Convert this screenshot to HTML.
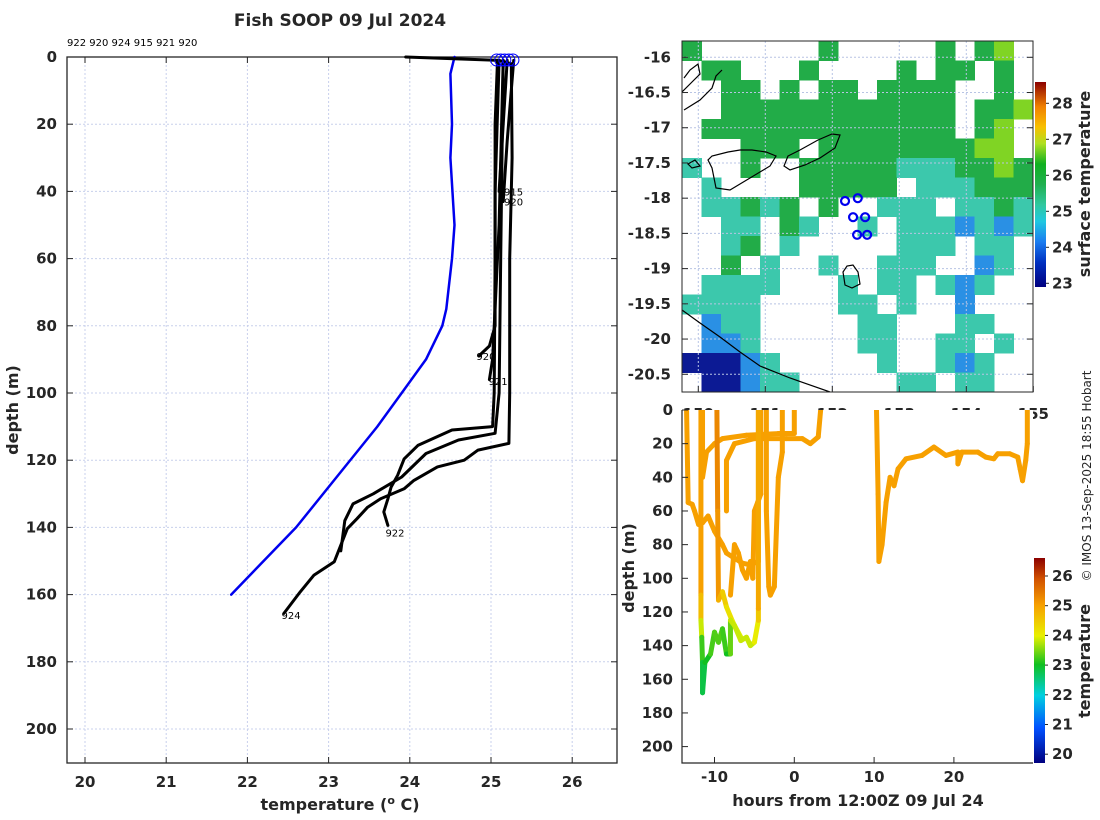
<!DOCTYPE html>
<html><head><meta charset="utf-8"><title>Fish SOOP 09 Jul 2024</title>
<style>
html,body{margin:0;padding:0;background:#fff;}
svg{display:block;font-family:"DejaVu Sans","Liberation Sans",sans-serif;}
.tk{font-size:15px;font-weight:bold;fill:#262626;}
.ttl{font-size:16px;font-weight:bold;fill:#262626;}
</style></head>
<body>
<svg id="fig" width="1100" height="820" viewBox="0 0 1100 820" xmlns="http://www.w3.org/2000/svg">
<defs>
<linearGradient id="cb1" x1="0" y1="1" x2="0" y2="0">
<stop offset="0" stop-color="#00007f"/><stop offset="0.12" stop-color="#0030c0"/><stop offset="0.22" stop-color="#1a7cf0"/><stop offset="0.32" stop-color="#20c8e0"/><stop offset="0.4" stop-color="#30c8a0"/><stop offset="0.5" stop-color="#20b050"/><stop offset="0.6" stop-color="#10b020"/><stop offset="0.7" stop-color="#b0e020"/><stop offset="0.78" stop-color="#f8c000"/><stop offset="0.88" stop-color="#f08000"/><stop offset="1" stop-color="#8b0000"/>
</linearGradient>
<linearGradient id="cb2" x1="0" y1="1" x2="0" y2="0">
<stop offset="0" stop-color="#00007f"/><stop offset="0.17" stop-color="#0050ff"/><stop offset="0.33" stop-color="#00d0e0"/><stop offset="0.48" stop-color="#10c020"/><stop offset="0.62" stop-color="#e8f000"/><stop offset="0.77" stop-color="#f7a000"/><stop offset="0.9" stop-color="#d05000"/><stop offset="1" stop-color="#8b0000"/>
</linearGradient>
<clipPath id="mapclip"><rect x="682" y="41" width="351" height="351"/></clipPath>
<clipPath id="botclip"><rect x="682" y="410" width="351" height="353"/></clipPath>
</defs>
<g id="left"></g>
<g id="map"></g>
<g id="bottom"></g>
<text x="0" y="0" transform="translate(1091,476) rotate(-90)" text-anchor="middle" font-size="12" fill="#262626">© IMOS 13-Sep-2025 18:55 Hobart</text>
</svg>
<script>
// ---------- LEFT PROFILE CHART DATA ----------
const tempTicks = [20,21,22,23,24,25,26];
const depthTicks = [0,20,40,60,80,100,120,140,160,180,200];
const profileIds = ["922","920","924","915","921","920"];
const climTemp  = [24.55,24.5,24.52,24.5,24.55,24.52,24.45,24.4,24.2,23.9,23.6,23.1,22.6,22.2,21.8];
const climDepth = [0,5,20,30,50,60,75,80,90,100,110,125,140,150,160];
const p924Temp  = [23.95,25.1,25.25,25.26,25.23,25.23,25.22,24.84,24.67,24.34,24.05,23.93,23.64,23.48,23.35,23.23,23.15,23.07,22.82,22.65,22.45];
const p924Depth = [0,1,2,30,60,100,115,117,120,122,126,128.5,131.5,134,137.4,140.4,145.3,150.2,154.2,159.2,165.6];
const p922Temp  = [25.08,25.05,25.05,25.04,25.02,24.52,24.1,23.93,23.85,23.77,23.73,23.68,23.73];
const p922Depth = [1,20,60,100,110,111,115.6,119.6,124.5,128,131.5,135.4,139.4];
const p920aTemp = [25.1,25.05,25.05,24.98,24.85];
const p920aDepth= [1,40,80,86,89];
const p921Temp  = [25.15,25.1,25.02,24.98];
const p921Depth = [1,50,90,96];
const p915Temp  = [25.2,25.15,25.1];
const p915Depth = [1,20,40];
const p920bTemp = [25.28,25.2,25.15];
const p920bDepth= [1,25,43];
const p9xTemp   = [25.15,25.12,25.1,25.05,24.6,24.2,23.9,23.55,23.3,23.2,23.15];
const p9xDepth  = [1,60,100,112,114,118,125,130,133,138,147];
const labelText = ["915","920","920","921","922","924"];
const labelTemp = [25.16,25.16,24.82,24.97,23.7,22.42];
const labelDepth= [40,43,89,96.5,141.5,166];
const surfTemp  = [25.07,25.12,25.17,25.22,25.27];

// ---------- MAP DATA ----------
const lonTicks = [150,151,152,153,154,155];
const latTicks = [-16,-16.5,-17,-17.5,-18,-18.5,-19,-19.5,-20,-20.5];
const sstTicks = [23,24,25,26,27,28];
const sstRows = [
"g......g.....g.gy.",
".gg...g....g.gg.g.",
"..gg.g.gg.gggg..g.",
"..gggggggggggg.ggy",
".ggggggggggggg.gy.",
"...ggg.ggggggggyy.",
"t..g..gggggtttggyg",
".t....ggggg.tttggg",
".ttgtg.g..ttt.ttgt",
"..tt.gt..t.tttbtbt",
"..tg.t.....ttt.tt.",
"..g.t..t..ttt..bt.",
".tttt...t.tt.tbt..",
"tttt....tt.t..b...",
".btt.....tt...tt..",
".bbt.....tt..tt.t.",
"dddbt.....t..tbt..",
".ddbtt.....tt.tt.."];
const dropLon = [152.19,152.38,152.31,152.49,152.37,152.52];
const dropLat = [-18.04,-18.0,-18.27,-18.27,-18.52,-18.52];

// ---------- BOTTOM SECTION DATA ----------
const hourTicks = [-10,0,10,20];
const secDepthTicks = [0,20,40,60,80,100,120,140,160,180,200];
const secTempTicks = [20,21,22,23,24,25,26];
const t1Hour = [-13.5,-13.3,-12.8,-12.5,-12,-11.5,-10.8,-10,-9,-8.5,-7.5,-6.5,-5.5,-4.5,-4.5];
const t1Depth= [0,55,56,60,68,67,63,72,80,85,88,91,92,90,0];
const t1Temp = [25,25,25,25,25,25,25,25,25,25,25,25,25,25,25];
const t2Hour = [-11.7,-11.7,-11.7,-11.6,-11.5,-11.5,-11.2,-10.5,-10,-9.5,-9,-8.5,-8,-8,-7.5,-6.7,-6,-5.5,-5,-4.5,-4.5,-4.5];
const t2Depth= [0,110,125,135,150,168,150,145,132,138,130,145,145,125,128,137,135,140,138,125,118,0];
const t2Temp = [25,25,24.3,23.4,23,22.7,22.9,23.1,23.4,23.2,23.4,23,23,23.8,23.9,23.8,23.9,23.8,23.9,24.2,24.8,25];
const t3Hour = [-11.5,-11.5,-11,-10,-9,-6,-2,0,0];
const t3Depth= [0,40,25,20,17,15,14,14,0];
const t3Temp = [25,25,25,25,25,25,25,25,25];
const t4Hour = [-9.7,-9.6,-9.5,-9,-8.5,-7.8,-7.5,-6.7];
const t4Depth= [0,60,113,108,117,125,128,135];
const t4Temp = [25.3,25.2,25,24.6,24.3,24.1,24,23.9];
const t5Hour = [-8.5,-8.5,-7.5,-5,-1,1,2,3,3.3];
const t5Depth= [60,30,20,17,17,17,20,16,0];
const t5Temp = [25,25,25,25,25,25,25,25,25];
const t6Hour = [-8,-7.5,-7,-6.5,-6,-5.5,-5.2,-5,-4.6,-4.2,-4.2];
const t6Depth= [110,80,85,95,100,90,100,60,55,50,0];
const t6Temp = [25,25,25,25,25,25,25,25,25,25,25];
const t7Hour = [-3.5,-3.5,-3.2,-3,-2.5,-2,-1.5,-1.5];
const t7Depth= [0,60,105,110,105,40,25,0];
const t7Temp = [25,25,25,25,25,25,25,25];
const t8Hour = [10.3,10.5,10.6,11,11.5,12,12.5,13,14,16,17.5,19,20.5,20.5,21,23,24,25,25.5,27,28,28.3,28.6,29,29.2,29.2];
const t8Depth= [0,50,90,80,55,40,45,35,29,27,22,27,25,32,25,25,28,29,26,26,28,35,42,30,20,0];
const t8Temp = [25,25,25,25,25,25,25,25,25,25,25,25,25,25,25,25,25,25,25,25,25,25,25,25,25,25];

const NS = "http://www.w3.org/2000/svg";
function mk(tag, attrs, parent){ const e=document.createElementNS(NS,tag); for(const k in attrs) e.setAttribute(k,attrs[k]); parent.appendChild(e); return e; }

// ===== LEFT CHART =====
const L = document.getElementById('left');


const lx = t => 85 + (t-20)*81.2;
const ly = d => 57 + d*3.36;
tempTicks.forEach(t=>{ const g=mk('line',{x1:lx(t),x2:lx(t),y1:57,y2:763,stroke:'#c8d0ec','stroke-width':1,'stroke-dasharray':'2,2'},L);
   });
depthTicks.forEach(d=>{ const g=mk('line',{x1:67,x2:617,y1:ly(d),y2:ly(d),stroke:'#c8d0ec','stroke-width':1,'stroke-dasharray':'2,2'},L);
   });
const fr = mk('rect',{x:67,y:57,width:550,height:706,fill:'none',stroke:'#262626','stroke-width':1.3},L);
 
tempTicks.forEach(t=>{
  mk('line',{x1:lx(t),x2:lx(t),y1:763,y2:757,stroke:'#262626'},L);
  mk('line',{x1:lx(t),x2:lx(t),y1:57,y2:63,stroke:'#262626'},L);
  const tx=mk('text',{x:lx(t),y:787,'text-anchor':'middle',class:'tk'},L); tx.textContent=t;
   
});
depthTicks.forEach(d=>{
  mk('line',{x1:67,x2:73,y1:ly(d),y2:ly(d),stroke:'#262626'},L);
  mk('line',{x1:617,x2:611,y1:ly(d),y2:ly(d),stroke:'#262626'},L);
  const tx=mk('text',{x:57,y:ly(d)+5,'text-anchor':'end',class:'tk'},L); tx.textContent=d;
   
});
let tt=mk('text',{x:340,y:26,'text-anchor':'middle',class:'ttl',style:'font-size:17px'},L); tt.textContent='Fish SOOP 09 Jul 2024';
 
tt=mk('text',{x:67,y:46,'font-size':10,fill:'#000'},L); tt.textContent=profileIds.join(' ');
 
tt=mk('text',{x:340,y:810,'text-anchor':'middle',class:'ttl'},L);
tt.innerHTML='temperature (<tspan dy="-6" font-size="11">o</tspan><tspan dy="6"> C)</tspan>';
 
tt=mk('text',{x:0,y:0,transform:'translate(18,410) rotate(-90)','text-anchor':'middle',class:'ttl'},L); tt.textContent='depth (m)';
 
function poly(ts,ds,color,w,name){
  const pts=ts.map((t,i)=>lx(t).toFixed(1)+','+ly(ds[i]).toFixed(1)).join(' ');
  const p=mk('polyline',{points:pts,fill:'none',stroke:color,'stroke-width':w,'stroke-linejoin':'round','stroke-linecap':'round'},L);
  
  
}
poly(climTemp,climDepth,'#0000ee',2.5,'climatology-line');
poly(p924Temp,p924Depth,'#000',3,'profile-924');
poly(p922Temp,p922Depth,'#000',3,'profile-922');
poly(p920aTemp,p920aDepth,'#000',3,'profile-920');
poly(p921Temp,p921Depth,'#000',3,'profile-921');
poly(p915Temp,p915Depth,'#000',3,'profile-915');
poly(p920bTemp,p920bDepth,'#000',3,'profile-920-b');
poly(p9xTemp,p9xDepth,'#000',3,'profile-extra');
surfTemp.forEach(t=>{ const c=mk('circle',{cx:lx(t),cy:ly(0)+3,r:6,fill:'none',stroke:'#0000ff','stroke-width':1},L);
    });
labelText.forEach((s,i)=>{ const tx=mk('text',{x:lx(labelTemp[i]),y:ly(labelDepth[i])+4,'font-size':10,fill:'#000'},L); tx.textContent=s;
    });

// ===== MAP =====
const M = document.getElementById('map');


const mx = lon => 698.3 + (lon-150)*67;
const my = lat => 57.3 + (-16-lat)*70.44;
const cellCol = {g:'#22ac48',t:'#3cc8ac',b:'#2a90e4',d:'#0c1a94',y:'#80d424'};
const MG = mk('g',{'clip-path':'url(#mapclip)'},M);
const cw = 351/18, ch = 351/18;
sstRows.forEach((row,r)=>{ [...row].forEach((c,k)=>{ if(c!=='.'){ const rc=mk('rect',{x:682+k*cw,y:41+r*ch,width:cw+0.5,height:ch+0.5,fill:cellCol[c]},MG);
    } }); });
lonTicks.forEach(l=>{ mk('line',{x1:mx(l),x2:mx(l),y1:41,y2:392,stroke:'#b8c4e4','stroke-dasharray':'2,2'},MG); });
latTicks.forEach(l=>{ mk('line',{x1:682,x2:1033,y1:my(l),y2:my(l),stroke:'#b8c4e4','stroke-dasharray':'2,2'},MG); });
const coast = [
 'M682,310 L700,323 L720,337 L740,352 L760,366 L790,378 L830,392',
 'M682,92 L692,82 L700,74 L698,64 L690,70 L684,78',
 'M684,110 L700,100 L712,88 L716,76 L722,70',
 'M708,160 L712,168 L716,188 L730,190 L750,178 L770,166 L776,156 L766,152 L752,150 L740,150 L728,152 L712,156 Z',
 'M784,166 L790,170 L805,165 L820,158 L835,148 L840,135 L832,134 L818,140 L800,150 L788,156 Z',
 'M843,272 L845,285 L852,288 L860,284 L858,272 L853,265 L847,266 Z',
 'M688,164 L695,160 L700,166 L692,168 Z'];
coast.forEach(d=>{ const p=mk('path',{d:d,fill:'none',stroke:'#000','stroke-width':1.2},MG);
    });
dropLon.forEach((lo,i)=>{ const c=mk('circle',{cx:mx(lo),cy:my(dropLat[i]),r:4,fill:'none',stroke:'#0000ee','stroke-width':2.2},M);
    });
const mf=mk('rect',{x:682,y:41,width:351,height:351,fill:'none',stroke:'#262626','stroke-width':1},M);
 
latTicks.forEach(l=>{ mk('line',{x1:682,x2:688,y1:my(l),y2:my(l),stroke:'#262626'},M); mk('line',{x1:1033,x2:1027,y1:my(l),y2:my(l),stroke:'#262626'},M);
  const tx=mk('text',{x:671,y:my(l)+5,'text-anchor':'end',class:'tk'},M); tx.textContent=l;
    });
lonTicks.forEach(l=>{ mk('line',{x1:mx(l),x2:mx(l),y1:392,y2:386,stroke:'#262626'},M);
  const tx=mk('text',{x:mx(l),y:419,'text-anchor':'middle',class:'tk'},M); tx.textContent=l;
    });
const sy = v => 103.3 + (28-v)*36;
let cb=mk('rect',{x:1035,y:82,width:11,height:205,fill:'url(#cb1)'},M);
 
sstTicks.forEach(v=>{ mk('line',{x1:1046,x2:1049,y1:sy(v),y2:sy(v),stroke:'#262626'},M);
  const tx=mk('text',{x:1052,y:sy(v)+5,class:'tk','font-size':14},M); tx.textContent=v;
    });
tt=mk('text',{x:0,y:0,transform:'translate(1090,184) rotate(-90)','text-anchor':'middle',class:'ttl','font-size':15},M); tt.textContent='surface temperature';
 

// ===== BOTTOM SECTION =====
const B = document.getElementById('bottom');


const bx = h => 794.3 + h*7.98;
const by = d => 410 + d*1.683;
mk('rect',{x:682,y:410,width:351,height:353,fill:'#fff'},B);
const stops=[[19.7,[0,0,127]],[20.8,[0,80,255]],[22,[0,208,224]],[23,[16,192,32]],[24,[232,240,0]],[25,[247,160,0]],[25.8,[208,80,0]],[26.6,[139,0,0]]];
function cmap(v){ if(v<=stops[0][0]) return 'rgb('+stops[0][1]+')';
 for(let i=1;i<stops.length;i++){ if(v<=stops[i][0]){ const a=stops[i-1],b=stops[i],f=(v-a[0])/(b[0]-a[0]);
   return 'rgb('+a[1].map((c,j)=>Math.round(c+(b[1][j]-c)*f)).join(',')+')'; } }
 return 'rgb('+stops[stops.length-1][1]+')'; }
const BG = mk('g',{'clip-path':'url(#botclip)'},B);
function trace(hs,ds,ts,name){
  const g=mk('g',{},BG);
  
  
  for(let i=1;i<hs.length;i++){
    mk('line',{x1:bx(hs[i-1]),y1:by(ds[i-1]),x2:bx(hs[i]),y2:by(ds[i]),stroke:cmap((ts[i-1]+ts[i])/2),'stroke-width':5,'stroke-linecap':'round'},g);
  }
}
trace(t1Hour,t1Depth,t1Temp,'section-trace-1');
trace(t3Hour,t3Depth,t3Temp,'section-trace-3');
trace(t5Hour,t5Depth,t5Temp,'section-trace-5');
trace(t6Hour,t6Depth,t6Temp,'section-trace-6');
trace(t7Hour,t7Depth,t7Temp,'section-trace-7');
trace(t8Hour,t8Depth,t8Temp,'section-trace-8');
trace(t4Hour,t4Depth,t4Temp,'section-trace-4');
trace(t2Hour,t2Depth,t2Temp,'section-trace-2');
mk('polyline',{points:'682,410 682,763 1033,763',fill:'none',stroke:'#262626','stroke-width':1.2},B);
hourTicks.forEach(h=>{ mk('line',{x1:bx(h),x2:bx(h),y1:763,y2:757,stroke:'#262626'},B);
  const tx=mk('text',{x:bx(h),y:782,'text-anchor':'middle',class:'tk'},B); tx.textContent=h;
    });
secDepthTicks.forEach(d=>{ mk('line',{x1:682,x2:688,y1:by(d),y2:by(d),stroke:'#262626'},B);
  const tx=mk('text',{x:673,y:by(d)+5,'text-anchor':'end',class:'tk'},B); tx.textContent=d;
    });
tt=mk('text',{x:858,y:806,'text-anchor':'middle',class:'ttl'},B); tt.textContent='hours from 12:00Z 09 Jul 24';
 
tt=mk('text',{x:0,y:0,transform:'translate(634,568) rotate(-90)','text-anchor':'middle',class:'ttl'},B); tt.textContent='depth (m)';
 
const cy2 = v => 576 + (26-v)*29.7;
cb=mk('rect',{x:1034,y:558,width:11,height:205,fill:'url(#cb2)'},B);
 
secTempTicks.forEach(v=>{ mk('line',{x1:1045,x2:1048,y1:cy2(v),y2:cy2(v),stroke:'#262626'},B);
  const tx=mk('text',{x:1052,y:cy2(v)+5,class:'tk','font-size':14},B); tx.textContent=v;
    });
tt=mk('text',{x:0,y:0,transform:'translate(1090,661) rotate(-90)','text-anchor':'middle',class:'ttl','font-size':15},B); tt.textContent='temperature';
 
</script>
</body></html>
